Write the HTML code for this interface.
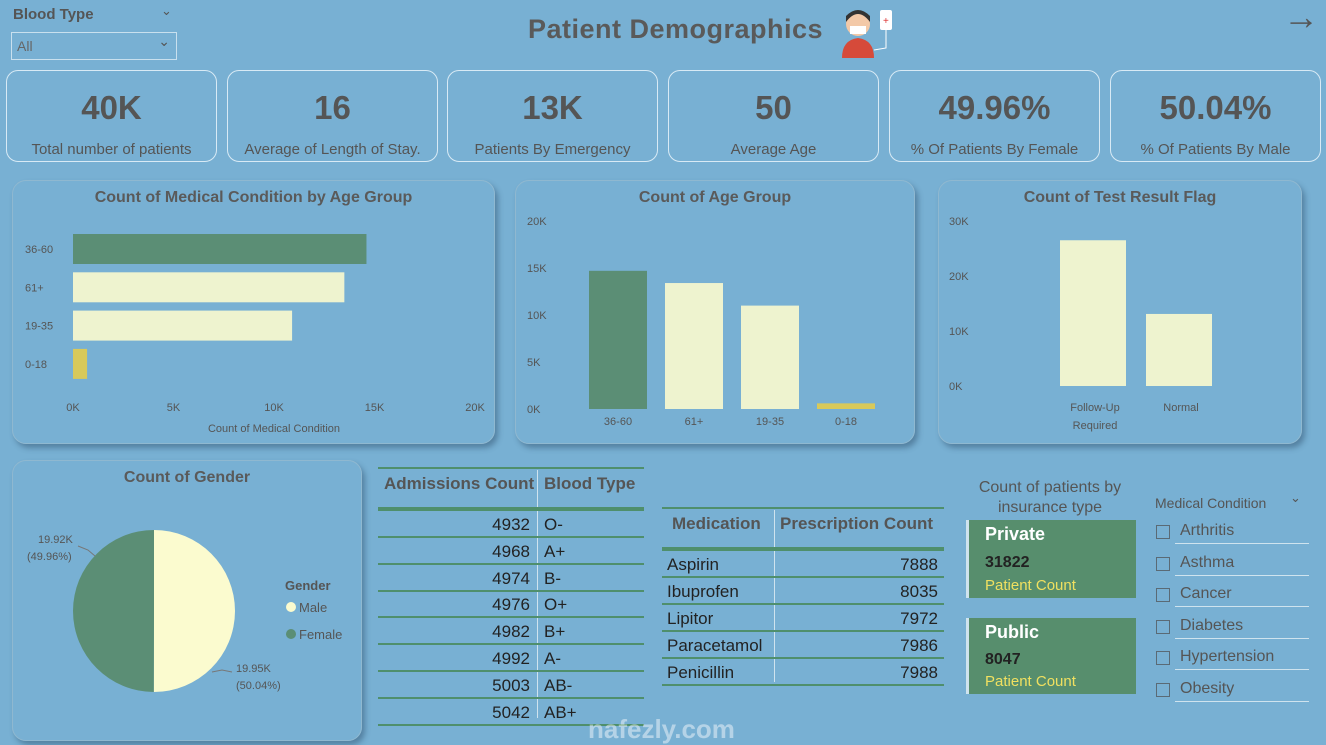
<!DOCTYPE html>
<html><head><meta charset="utf-8">
<style>
*{box-sizing:border-box;margin:0;padding:0}
body{width:1326px;height:744px;background:#78b0d3;font-family:"Liberation Sans",sans-serif;color:#555;position:relative;overflow:hidden}
.abs{position:absolute}
.card{position:absolute;border:1.5px solid #d8eaf5;border-radius:12px}
.kv{position:absolute;top:18px;width:100%;text-align:center;font-size:33px;font-weight:bold;color:#555}
.kl{position:absolute;top:70px;width:100%;text-align:center;font-size:15px;color:#555}
.panel{position:absolute;border-radius:14px;border:1px solid #8fb8d0;box-shadow:3px 4px 6px rgba(40,70,100,.45)}
.ptitle{position:absolute;top:8px;width:100%;text-align:center;font-size:16px;font-weight:bold;color:#5a5a5a}
.tbl div{position:absolute}
.hl{position:absolute;height:3px;background:#4f8f6c}
</style></head><body>
<div class="abs" style="left:13px;top:6px;font-size:15px;font-weight:bold;color:#555">Blood Type</div>
<div class="abs" style="left:161px;top:3px;font-size:13px">&#8964;</div>
<div class="abs" style="left:11px;top:32px;width:166px;height:28px;border:1.5px solid #c9e0ee"><span style="position:absolute;left:5px;top:5px;font-size:14px;color:#666">All</span><span style="position:absolute;right:6px;top:0px;font-size:14px">&#8964;</span></div>
<div class="abs" style="left:528px;top:14px;font-size:27px;font-weight:bold;color:#5a5a5a;letter-spacing:0.5px">Patient Demographics</div>
<svg class="abs" style="left:838px;top:4px" width="58" height="54"><circle cx="20" cy="20" r="12" fill="#f3c9a8"/><path d="M8 18 Q20 2 32 18 L32 12 Q20 0 8 12Z" fill="#333"/><rect x="12" y="22" width="16" height="8" fill="#fff"/><path d="M4 54 Q4 36 20 34 Q36 36 36 54Z" fill="#d64a3a"/><rect x="42" y="6" width="12" height="20" rx="2" fill="#fff"/><text x="45" y="20" font-size="10" fill="#d33">+</text><path d="M48 26 L48 44 L36 46" stroke="#fff" fill="none"/></svg>
<div class="abs" style="left:1283px;top:-4px;font-size:36px;color:#555">&#8594;</div>

<div class="card" style="left:6px;top:70px;width:211px;height:92px"><div class="kv">40K</div><div class="kl">Total number of patients</div></div>
<div class="card" style="left:227px;top:70px;width:211px;height:92px"><div class="kv">16</div><div class="kl">Average of Length of Stay.</div></div>
<div class="card" style="left:447px;top:70px;width:211px;height:92px"><div class="kv">13K</div><div class="kl">Patients By Emergency</div></div>
<div class="card" style="left:668px;top:70px;width:211px;height:92px"><div class="kv">50</div><div class="kl">Average Age</div></div>
<div class="card" style="left:889px;top:70px;width:211px;height:92px"><div class="kv">49.96%</div><div class="kl">% Of Patients By Female</div></div>
<div class="card" style="left:1110px;top:70px;width:211px;height:92px"><div class="kv">50.04%</div><div class="kl">% Of Patients By Male</div></div>

<div class="panel" style="left:12px;top:180px;width:483px;height:264px"><div class="ptitle">Count of Medical Condition by Age Group</div></div>
<div class="panel" style="left:515px;top:180px;width:400px;height:264px"><div class="ptitle">Count of Age Group</div></div>
<div class="panel" style="left:938px;top:180px;width:364px;height:264px"><div class="ptitle">Count of Test Result Flag</div></div>
<div class="panel" style="left:12px;top:460px;width:350px;height:281px"><div class="ptitle">Count of Gender</div></div>

<svg class="abs" id="charts" style="left:0;top:0" width="1326" height="744" font-family="Liberation Sans, sans-serif"></svg>

<div class="tbl">
<div style="left:384px;top:474px;font-size:17px;font-weight:bold;color:#555">Admissions Count</div>
<div style="left:544px;top:474px;font-size:17px;font-weight:bold;color:#555">Blood Type</div>
<div style="left:537px;top:470px;width:1px;height:248px;background:#cfe3ee"></div>
<div class="hl" style="left:378px;top:467px;width:266px;height:2px"></div>
<div class="hl" style="left:378px;top:507px;width:266px;height:4px"></div>
<div id="admRows"></div>
</div>
<div class="tbl">
<div style="left:672px;top:514px;font-size:17px;font-weight:bold;color:#555">Medication</div>
<div style="left:780px;top:514px;font-size:17px;font-weight:bold;color:#555">Prescription Count</div>
<div style="left:774px;top:510px;width:1px;height:172px;background:#cfe3ee"></div>
<div class="hl" style="left:662px;top:507px;width:282px;height:2px"></div>
<div class="hl" style="left:662px;top:547px;width:282px;height:4px"></div>
<div id="medRows"></div>
</div>

<div class="abs" style="left:960px;top:478px;width:180px;text-align:center;font-size:16px;line-height:20px;color:#555">Count of patients by insurance type</div>
<div class="abs" style="left:966px;top:520px;width:170px;height:78px;background:#578e6d;border-left:3px solid #cfe3ee"><div style="position:absolute;left:16px;top:4px;font-size:18px;font-weight:bold;color:#fff">Private</div><div style="position:absolute;left:16px;top:34px;font-size:16px;font-weight:bold;color:#222">31822</div><div style="position:absolute;left:16px;top:57px;font-size:15px;color:#f0e060">Patient Count</div></div>
<div class="abs" style="left:966px;top:618px;width:170px;height:76px;background:#578e6d;border-left:3px solid #cfe3ee"><div style="position:absolute;left:16px;top:4px;font-size:18px;font-weight:bold;color:#fff">Public</div><div style="position:absolute;left:16px;top:33px;font-size:16px;font-weight:bold;color:#222">8047</div><div style="position:absolute;left:16px;top:55px;font-size:15px;color:#f0e060">Patient Count</div></div>

<div class="abs" style="left:1155px;top:495px;font-size:14px;color:#555">Medical Condition</div>
<div class="abs" style="left:1290px;top:490px;font-size:13px">&#8964;</div>
<div id="slicer"></div>

<div class="abs" style="left:588px;top:714px;font-size:26px;color:rgba(255,255,255,.45);font-weight:bold">nafezly.com</div>

<script>
const ageCats=["36-60","61+","19-35","0-18"];
const condValues=[14.6,13.5,10.9,0.7];
const condTicks=[0,5,10,15,20];
const ageValues=[14.7,13.4,11.0,0.6];
const ageTicks=[0,5,10,15,20];
const testCats=["Follow-Up|Required","Normal"];
const testValues=[26.5,13.1];
const testTicks=[0,10,20,30];
const genderLabels=["Male","Female"];
const genderValues=[19.95,19.92];
const bloodTypes=["O-","A+","B-","O+","B+","A-","AB-","AB+"];
const admissions=[4932,4968,4974,4976,4982,4992,5003,5042];
const meds=["Aspirin","Ibuprofen","Lipitor","Paracetamol","Penicillin"];
const prescriptions=[7888,8035,7972,7986,7988];
const conditions=["Arthritis","Asthma","Cancer","Diabetes","Hypertension","Obesity"];

const NS="http://www.w3.org/2000/svg";
const svg=document.getElementById('charts');
const colors=["#5b8e75","#eef3cf","#eef3cf","#d8c95a"];
function mk(tag,attrs,txt){const e=document.createElementNS(NS,tag);for(const k in attrs)e.setAttribute(k,attrs[k]);if(txt!==undefined)e.textContent=txt;svg.appendChild(e);return e;}

const x1=v=>73+v*(475-73)/20;
const y1=i=>249+i*38.3;
condTicks.forEach(t=>{const e=mk('text',{x:x1(t),y:411,'font-size':11,fill:'#555','text-anchor':'middle'},t+'K');

});
mk('text',{x:274,y:432,'font-size':11,fill:'#555','text-anchor':'middle'},'Count of Medical Condition');
ageCats.forEach((c,i)=>{const l=mk('text',{x:25,y:y1(i)+4,'font-size':11,fill:'#555'},c);


const r=mk('rect',{x:x1(0),y:y1(i)-15,width:x1(condValues[i])-x1(0),height:30,fill:colors[i]});

});

const y2=v=>409-v*(409-221)/20;
const xc2=i=>618+i*76;
ageTicks.forEach(t=>{const e=mk('text',{x:527,y:y2(t)+4,'font-size':11,fill:'#555'},t+'K');

});
ageCats.forEach((c,i)=>{const r=mk('rect',{x:xc2(i)-29,y:y2(ageValues[i]),width:58,height:y2(0)-y2(ageValues[i]),fill:colors[i]});


const l=mk('text',{x:xc2(i),y:425,'font-size':11,fill:'#555','text-anchor':'middle'},c);

});

const y3=v=>386-v*(386-221)/30;
const xc3=i=>1093+i*86;
testTicks.forEach(t=>{const e=mk('text',{x:949,y:y3(t)+4,'font-size':11,fill:'#555'},t+'K');

});
testCats.forEach((c,i)=>{const r=mk('rect',{x:xc3(i)-33,y:y3(testValues[i]),width:66,height:y3(0)-y3(testValues[i]),fill:'#eef3cf'});


c.split('|').forEach((p,j)=>mk('text',{x:xc3(i)+2,y:411+j*18,'font-size':11,fill:'#555','text-anchor':'middle'},p));});

const cx=154,cy=611,R=81;const tot=genderValues.reduce((a,b)=>a+b,0);
let a0=-Math.PI/2;const pc=["#fbfbcf","#5b8e75"];
genderValues.forEach((v,i)=>{const a1=a0+v/tot*2*Math.PI;
const p=mk('path',{d:`M${cx},${cy} L${cx+R*Math.cos(a0)},${cy+R*Math.sin(a0)} A${R},${R} 0 ${a1-a0>Math.PI?1:0} 1 ${cx+R*Math.cos(a1)},${cy+R*Math.sin(a1)} Z`,fill:pc[i]});

a0=a1;});
const pct=genderValues.map(v=>(v/tot*100).toFixed(2)+'%');
mk('text',{x:236,y:672,'font-size':11,fill:'#555'},genderValues[0]+'K');
mk('text',{x:236,y:689,'font-size':11,fill:'#555'},'('+pct[0]+')');
mk('polyline',{points:'212,672 222,670 232,672',stroke:'#777',fill:'none'});
mk('text',{x:38,y:543,'font-size':11,fill:'#555'},genderValues[1]+'K');
mk('text',{x:27,y:560,'font-size':11,fill:'#555'},'('+pct[1]+')');
mk('polyline',{points:'78,546 88,550 95,556',stroke:'#777',fill:'none'});
mk('text',{x:285,y:590,'font-size':13,'font-weight':'bold',fill:'#555'},'Gender');
genderLabels.forEach((g,i)=>{mk('circle',{cx:291,cy:607+i*27,r:5,fill:pc[i]});
const t=mk('text',{x:299,y:612+i*27,'font-size':13,fill:'#555'},g);

});

function div(parent,style,txt){const d=document.createElement('div');d.style.cssText=style;if(txt!==undefined)d.textContent=txt;parent.appendChild(d);return d;}
const ar=document.getElementById('admRows');
bloodTypes.forEach((b,i)=>{const y=512+i*26.8;
const r=div(ar,`position:absolute;left:378px;top:${y}px;width:266px;height:27px`);


div(r,'position:absolute;right:114px;top:3px;font-size:17px;color:#222',admissions[i]);
div(r,'position:absolute;left:166px;top:3px;font-size:17px;color:#222',b);
div(r,'position:absolute;left:0;top:24px;width:266px;height:2px;background:#4f8f6c');});
const mr=document.getElementById('medRows');
meds.forEach((m,i)=>{const y=552+i*27;
const r=div(mr,`position:absolute;left:662px;top:${y}px;width:282px;height:27px`);


div(r,'position:absolute;left:5px;top:3px;font-size:17px;color:#222',m);
div(r,'position:absolute;right:6px;top:3px;font-size:17px;color:#222',prescriptions[i]);
div(r,'position:absolute;left:0;top:24px;width:282px;height:2px;background:#4f8f6c');});
const sl=document.getElementById('slicer');
conditions.forEach((c,i)=>{const y=521+i*31.6;
const r=div(sl,`position:absolute;left:1155px;top:${y}px;width:154px;height:26px`);


div(r,'position:absolute;left:1px;top:4px;width:14px;height:14px;border:1px solid #5a6a75');
div(r,'position:absolute;left:25px;top:1px;font-size:16px;color:#555',c);
div(r,'position:absolute;left:20px;top:22px;width:134px;height:1px;background:#cfe3ee');});
</script>
</body></html>
